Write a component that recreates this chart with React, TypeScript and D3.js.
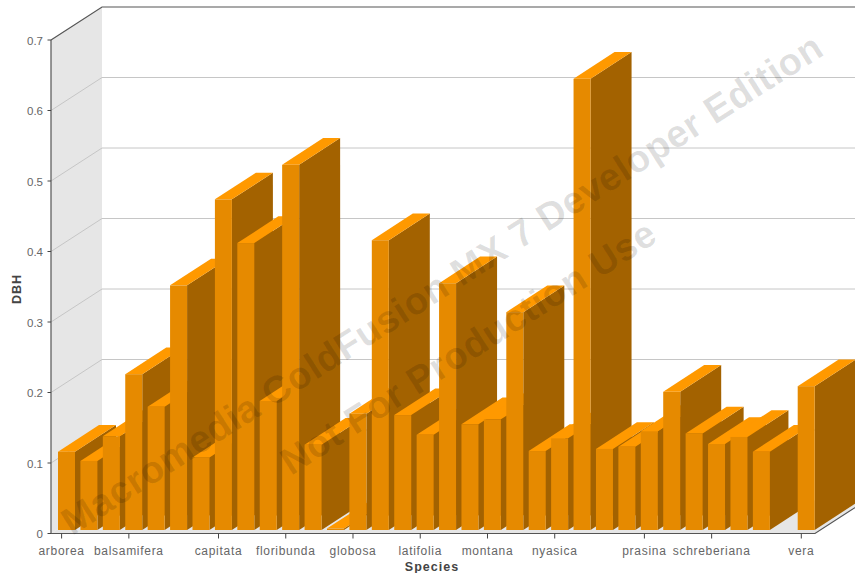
import React from "react";
import * as d3 from "d3";

// DBH per species, drawn left to right
const speciesLabels = [
  "arborea", "", "", "balsamifera", "", "", "", "capitata", "", "", "floribunda", "", "", "globosa", "", "", "latifolia",
  "", "", "montana", "", "", "nyasica", "", "", "", "prasina", "", "", "schreberiana", "", "", "", "vera",
];
const dbhValues = [
  0.111, 0.098, 0.133, 0.221, 0.175, 0.347, 0.103, 0.469, 0.407, 0.183, 0.518, 0.121, 0.002, 0.165, 0.411, 0.163, 0.135,
  0.350, 0.150, 0.157, 0.309, 0.112, 0.130, 0.640, 0.115, 0.118, 0.140, 0.196, 0.137, 0.122, 0.132, 0.111, 0, 0.204,
];
const yTicks = [0, 0.1, 0.2, 0.3, 0.4, 0.5, 0.6, 0.7];

const WIDTH = 855;
const HEIGHT = 573;
const FONT = "'Liberation Sans', Arial, sans-serif";

// Projection of the chart box
const wallDx = 51;
const wallDy = -33;
const barDx = 41;
const barDy = -26.7;
const barWidth = 17;
const barBase = 530;
const axisLeft = 51;
const axisRight = 815;

const axisY = d3.scaleLinear().domain([0, 0.7]).range([533.5, 40]);
const barY = d3.scaleLinear().domain([0, 0.7]).range([barBase, barBase - 493.5]);
const slotX = d3
  .scaleLinear()
  .domain([0, dbhValues.length - 1])
  .range([58, 797.7]);

const pts = (p: [number, number][]) => p.map((q) => q.join(",")).join(" ");

export default function App() {
  const y0 = axisY(0);
  const y7 = axisY(0.7);
  return (
    <svg
      width={WIDTH}
      height={HEIGHT}
      viewBox={`0 0 ${WIDTH} ${HEIGHT}`}
      style={{ position: "absolute", left: 0, top: 0, background: "#fff" }}
      fontFamily={FONT}
    >
      {/* side wall and floor */}
      <polygon
        points={pts([
          [axisLeft, y7],
          [axisLeft + wallDx, y7 + wallDy],
          [axisLeft + wallDx, y0 + wallDy],
          [axisLeft, y0],
        ])}
        fill="#e6e6e6"
      />
      <polygon
        points={pts([
          [axisLeft, y0],
          [axisRight, y0],
          [axisRight + wallDx, y0 + wallDy],
          [axisLeft + wallDx, y0 + wallDy],
        ])}
        fill="#e6e6e6"
      />

      {/* gridlines across both walls */}
      {yTicks.slice(1, -1).map((t) => (
        <polyline
          key={t}
          points={pts([
            [axisLeft, axisY(t)],
            [axisLeft + wallDx, axisY(t) + wallDy],
            [WIDTH, axisY(t) + wallDy],
          ])}
          fill="none"
          stroke="#c6c6c6"
          strokeWidth={1}
        />
      ))}

      {/* box outline */}
      <polyline
        points={pts([
          [axisLeft, y7],
          [axisLeft + wallDx, y7 + wallDy],
          [WIDTH, y7 + wallDy],
        ])}
        fill="none"
        stroke="#555"
        strokeWidth={1.2}
      />
      <polyline
        points={pts([
          [axisLeft, y7],
          [axisLeft, y0],
          [axisRight, y0],
          [axisRight + wallDx, y0 + wallDy],
        ])}
        fill="none"
        stroke="#555"
        strokeWidth={1.2}
      />

      {/* y axis */}
      {yTicks.map((t) => (
        <g key={t}>
          <line x1={axisLeft - 3.5} x2={axisLeft} y1={axisY(t)} y2={axisY(t)} stroke="#444" />
          <text x={43} y={axisY(t) + 4.5} textAnchor="end" fontSize={11.5} fill="#666">
            {t}
          </text>
        </g>
      ))}

      {/* extruded bars */}
      {dbhValues.map((v, i) => {
        const x = slotX(i);
        const top = barY(v);
        if (v <= 0) return null;
        return (
          <g key={i}>
            <polygon
              points={pts([
                [x + barWidth, top],
                [x + barWidth + barDx, top + barDy],
                [x + barWidth + barDx, barBase + barDy],
                [x + barWidth, barBase],
              ])}
              fill="#a36200"
            />
            <polygon
              points={pts([
                [x, top],
                [x + barDx, top + barDy],
                [x + barWidth + barDx, top + barDy],
                [x + barWidth, top],
              ])}
              fill="#ff9900"
            />
            <rect x={x} y={top} width={barWidth} height={barBase - top} fill="#e68a00" />
          </g>
        );
      })}

      {/* x axis */}
      {speciesLabels.map((label, i) =>
        label ? (
          <g key={label}>
            <line
              x1={slotX(i) + 3.6}
              x2={slotX(i) + 3.6}
              y1={y0}
              y2={y0 + 5}
              stroke="#444"
            />
            <text
              x={slotX(i) + 3.6}
              y={554.5}
              textAnchor="middle"
              fontSize={12}
              letterSpacing={0.7}
              fill="#666"
            >
              {label}
            </text>
          </g>
        ) : null,
      )}

      {/* axis titles */}
      <text
        x={432}
        y={571}
        textAnchor="middle"
        fontSize={12.5}
        fontWeight="bold"
        letterSpacing={1}
        fill="#444"
      >
        Species
      </text>
      <text
        transform="translate(21,289) rotate(-90)"
        textAnchor="middle"
        fontSize={12.5}
        fontWeight="bold"
        letterSpacing={1}
        fill="#444"
      >
        DBH
      </text>

      {/* edition stamp */}
      <g fontWeight="bold" fill="#000" fillOpacity={0.13}>
        <text transform="translate(72,536) rotate(-32.6)" fontSize={38} letterSpacing={0.47}>
          Macromedia ColdFusion MX 7 Developer Edition
        </text>
        <text transform="translate(291,476) rotate(-32.6)" fontSize={38} letterSpacing={0.5}>
          Not For Production Use
        </text>
      </g>
    </svg>
  );
}
